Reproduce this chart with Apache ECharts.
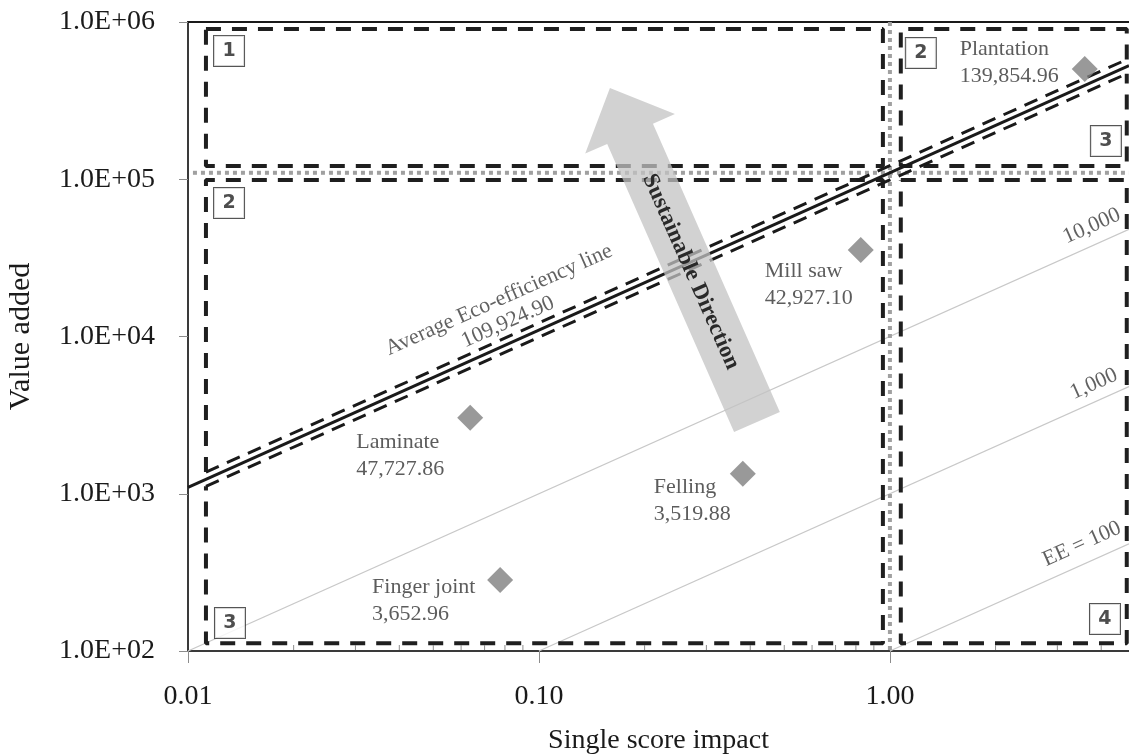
<!DOCTYPE html>
<html>
<head>
<meta charset="utf-8">
<script src="https://cdn.jsdelivr.net/npm/echarts@6.0.0/dist/echarts.min.js"></script>
<style>
html,body{margin:0;padding:0;background:#fff;}
#chart{width:1129px;height:756px;}
</style>
</head>
<body>
<div id="chart"></div>
<script>
// ---------------- DATA ----------------
const processes   = ['Plantation', 'Mill saw', 'Laminate', 'Felling', 'Finger joint'];
const impact      = [3.59, 0.826, 0.0637, 0.381, 0.0775];          // single score impact
const valueAdded  = [502000, 35500, 3040, 1340, 283];             // value added
const eeLabels    = ['139,854.96', '42,927.10', '47,727.86', '3,519.88', '3,652.96'];
const averageEE   = 109924.90;
const eeRefValues = [10000, 1000, 100];
const eeRefLabels = ['10,000', '1,000', 'EE = 100'];
const xTickLabels = ['0.01', '0.10', '1.00'];
const yTickLabels = ['1.0E+02', '1.0E+03', '1.0E+04', '1.0E+05', '1.0E+06'];
const minorTickValues = [0.02,0.03,0.04,0.05,0.06,0.07,0.08,0.09,0.2,0.3,0.4,0.5,0.6,0.7,0.8,0.9,2,3,4];
const regionNames = ['1', '2', '3', '2', '3', '4'];
const avgLabelTexts = ['Average Eco-efficiency line', '109,924.90'];
const arrowText = 'Sustainable Direction';

// ---------------- LAYOUT (positions in data units) ----------------
const X_MIN = 0.01, X_MAX = 4.8, Y_MIN = 100, Y_MAX = 1e6;
const BAND = 1.11;
const box = {xL: 0.01125, xR: 0.955, xL2: 1.074, xR2: 4.73, yTop: 9.02e5, yHi: 1.214e5, yLo: 9.89e4, yBot: 112};
const regionPos = [[0.01309, 654600], [0.01309, 70600], [0.01317, 150.6], [1.225, 635000], [4.125, 175000], [4.10, 159.8]];
const pointLabelOffsets = [[-125, -6], [-96, 35], [-114, 38], [-89, 27], [-128, 21]];
const avgLabelPos = [[0.0769, 17060], [0.0816, 12360]];
const eeRefLabelPos = [[3.763, 50420], [3.813, 4990], [3.524, 479]];
const arrowTail = [0.418, 2858], arrowTip = [0.1593, 380000];

const SERIF = '"Liberation Serif", "Times New Roman", serif';

function decIndex(v, base) { return Math.round(Math.log10(v)) - base; }
function isDecade(v) { const l = Math.log10(v); return Math.abs(l - Math.round(l)) < 1e-6; }

const lineXY = (k, x0, x1) => [[x0, k * x0], [x1, k * x1]];

const series = [];

// EE reference lines
eeRefValues.forEach((ee) => {
  const x0 = Math.max(X_MIN, Y_MIN / ee);
  series.push({
    type: 'line', data: lineXY(ee, x0, X_MAX), symbol: 'none', silent: true, z: 1,
    lineStyle: {color: '#c8c8c8', width: 1.3}
  });
});

// Dashed region boxes
const dashed = {color: '#1f1f1f', width: 4, type: [15, 11], cap: 'butt'};
const boxes = [
  [[box.xL, box.yTop], [box.xR, box.yTop], [box.xR, box.yHi], [box.xL, box.yHi], [box.xL, box.yTop]],
  [[box.xL, averageEE * BAND * box.xL], [box.xL, box.yLo], [box.xR, box.yLo], [box.xR, box.yBot], [box.xL, box.yBot], [box.xL, averageEE / BAND * box.xL]],
  [[box.xR2, averageEE * BAND * box.xR2], [box.xR2, box.yTop], [box.xL2, box.yTop], [box.xL2, box.yHi], [box.xR2, box.yHi], [box.xR2, averageEE / BAND * box.xR2]],
  [[box.xL2, box.yLo], [box.xR2, box.yLo], [box.xR2, box.yBot], [box.xL2, box.yBot], [box.xL2, box.yLo]]
];
boxes.forEach(b => series.push({type: 'line', data: b, symbol: 'none', silent: true, z: 2, lineStyle: dashed}));

// Gray dotted lines through average point (x = 1)
const dotted = {color: '#a0a0a0', width: 4, type: [4, 4], cap: 'butt'};
series.push({type: 'line', data: [[0.01033, averageEE], [X_MAX, averageEE]], symbol: 'none', silent: true, z: 3, lineStyle: dotted});
series.push({type: 'line', data: [[1, Y_MAX], [1, Y_MIN]], symbol: 'none', silent: true, z: 3, lineStyle: dotted});

// Average eco-efficiency line and band
series.push({type: 'line', data: lineXY(averageEE, X_MIN, X_MAX), symbol: 'none', silent: true, z: 4,
  lineStyle: {color: '#1a1a1a', width: 3}});
series.push({type: 'line', data: lineXY(averageEE * BAND, box.xL, box.xR2), symbol: 'none', silent: true, z: 4,
  lineStyle: {color: '#1a1a1a', width: 3, type: [14, 9], cap: 'butt'}});
series.push({type: 'line', data: lineXY(averageEE / BAND, box.xL, box.xR2), symbol: 'none', silent: true, z: 4,
  lineStyle: {color: '#1a1a1a', width: 3, type: [14, 9], cap: 'butt'}});

// Minor ticks on x axis (pointing inward)
series.push({
  type: 'custom', silent: true, clip: false, z: 6,
  data: minorTickValues.map(v => [v, Y_MIN]),
  renderItem: (params, api) => {
    const p = api.coord([api.value(0), api.value(1)]);
    return {type: 'line', shape: {x1: p[0], y1: p[1] - 1, x2: p[0], y2: p[1] - 6}, style: {stroke: '#8c8c8c', lineWidth: 1}};
  }
});

// Sustainable direction arrow
series.push({
  type: 'custom', silent: true, clip: false, z: 8,
  data: [[arrowTail[0], arrowTail[1], arrowTip[0], arrowTip[1]]],
  renderItem: (params, api) => {
    const t = api.coord([api.value(0), api.value(1)]);
    const h = api.coord([api.value(2), api.value(3)]);
    const dx = h[0] - t[0], dy = h[1] - t[1], L = Math.hypot(dx, dy);
    const ux = dx / L, uy = dy / L, nx = -uy, ny = ux;
    const sw = 25, hw = 49, hl = 50;
    const b = [h[0] - ux * hl, h[1] - uy * hl];
    const pts = [
      [t[0] + nx * sw, t[1] + ny * sw], [b[0] + nx * sw, b[1] + ny * sw], [b[0] + nx * hw, b[1] + ny * hw],
      h, [b[0] - nx * hw, b[1] - ny * hw], [b[0] - nx * sw, b[1] - ny * sw], [t[0] - nx * sw, t[1] - ny * sw]
    ];
    const c = [t[0] + dx * 0.45, t[1] + dy * 0.45];
    const rot = -Math.atan2(-dy, -dx);
    return {
      type: 'group', children: [
        {type: 'polygon', shape: {points: pts}, style: {fill: 'rgba(195,195,195,0.75)'}},
        {type: 'text', x: c[0], y: c[1], rotation: rot,
          style: {text: arrowText, font: 'bold 23px ' + SERIF, fill: '#2a2a2a', align: 'center', verticalAlign: 'middle'}}
      ]
    };
  }
});

// Region number boxes
series.push({
  type: 'scatter', symbolSize: 0, silent: true, z: 9,
  data: regionNames.map((n, i) => ({name: n, value: regionPos[i]})),
  label: {
    show: true, position: 'inside', formatter: '{b}',
    fontFamily: '"DejaVu Sans", sans-serif', fontWeight: 'bold', fontSize: 19, color: '#222222',
    backgroundColor: '#ffffff', borderColor: '#2a2a2a', borderWidth: 1,
    width: 30, height: 30, lineHeight: 30, align: 'center', verticalAlign: 'middle', padding: 0
  }
});

// Rotated annotation texts
const annotTexts = avgLabelTexts.concat(eeRefLabels);
const annotPos = avgLabelPos.concat(eeRefLabelPos);
series.push({
  type: 'scatter', symbolSize: 0, silent: true, z: 9,
  data: annotTexts.map((s, i) => ({name: s, value: annotPos[i]})),
  label: {
    show: true, position: 'inside', formatter: '{b}', rotate: 24,
    fontFamily: SERIF, fontSize: 22, color: '#3a3a3a', align: 'center', verticalAlign: 'middle'
  }
});

// Process points
series.push({
  type: 'scatter', symbol: 'diamond', symbolSize: 26, z: 10,
  itemStyle: {color: '#808080'},
  data: processes.map((p, i) => ({
    name: p, value: [impact[i], valueAdded[i]],
    label: {offset: pointLabelOffsets[i]}
  })),
  label: {
    show: true, position: 'inside', align: 'left', verticalAlign: 'middle',
    formatter: (prm) => prm.name + '\n' + eeLabels[prm.dataIndex],
    fontFamily: SERIF, fontSize: 22, lineHeight: 27, color: '#333333'
  }
});

const option = {
  animation: false,
  backgroundColor: '#ffffff',
  grid: {left: 188, right: 0, top: 22, bottom: 105, containLabel: false, outerBoundsMode: 'none'},
  xAxis: [{
    type: 'log', logBase: 10, min: X_MIN, max: X_MAX, position: 'bottom',
    axisLine: {show: true, lineStyle: {color: '#3a3a3a', width: 2}},
    axisTick: {show: true, inside: false, length: 12, lineStyle: {color: '#8c8c8c', width: 1}},
    minorTick: {show: false},
    splitLine: {show: false},
    axisLabel: {
      margin: 32, fontFamily: SERIF, fontSize: 28, color: '#1a1a1a', showMaxLabel: false, hideOverlap: false,
      formatter: (v) => isDecade(v) ? (xTickLabels[decIndex(v, -2)] || '') : ''
    },
    name: 'Single score impact', nameLocation: 'middle', nameGap: 76,
    nameTextStyle: {fontFamily: SERIF, fontSize: 28, color: '#1a1a1a'}
  }, {
    type: 'log', logBase: 10, min: X_MIN, max: X_MAX, position: 'top',
    axisLine: {show: true, lineStyle: {color: '#1a1a1a', width: 2}},
    axisTick: {show: false}, axisLabel: {show: false}, splitLine: {show: false}
  }],
  yAxis: {
    type: 'log', logBase: 10, min: Y_MIN, max: Y_MAX,
    axisLine: {show: true, lineStyle: {color: '#3a3a3a', width: 2}},
    axisTick: {show: true, inside: false, length: 9, lineStyle: {color: '#8c8c8c', width: 1}},
    splitLine: {show: false},
    axisLabel: {
      margin: 33, fontFamily: SERIF, fontSize: 28, color: '#1a1a1a', hideOverlap: false,
      formatter: (v) => isDecade(v) ? (yTickLabels[decIndex(v, 2)] || '') : ''
    },
    name: 'Value added', nameLocation: 'middle', nameGap: 152, nameRotate: 90,
    nameTextStyle: {fontFamily: SERIF, fontSize: 30, color: '#1a1a1a'}
  },
  series: series
};

const chart = echarts.init(document.getElementById('chart'), null, {renderer: 'canvas'});
chart.setOption(option);
</script>
</body>
</html>
